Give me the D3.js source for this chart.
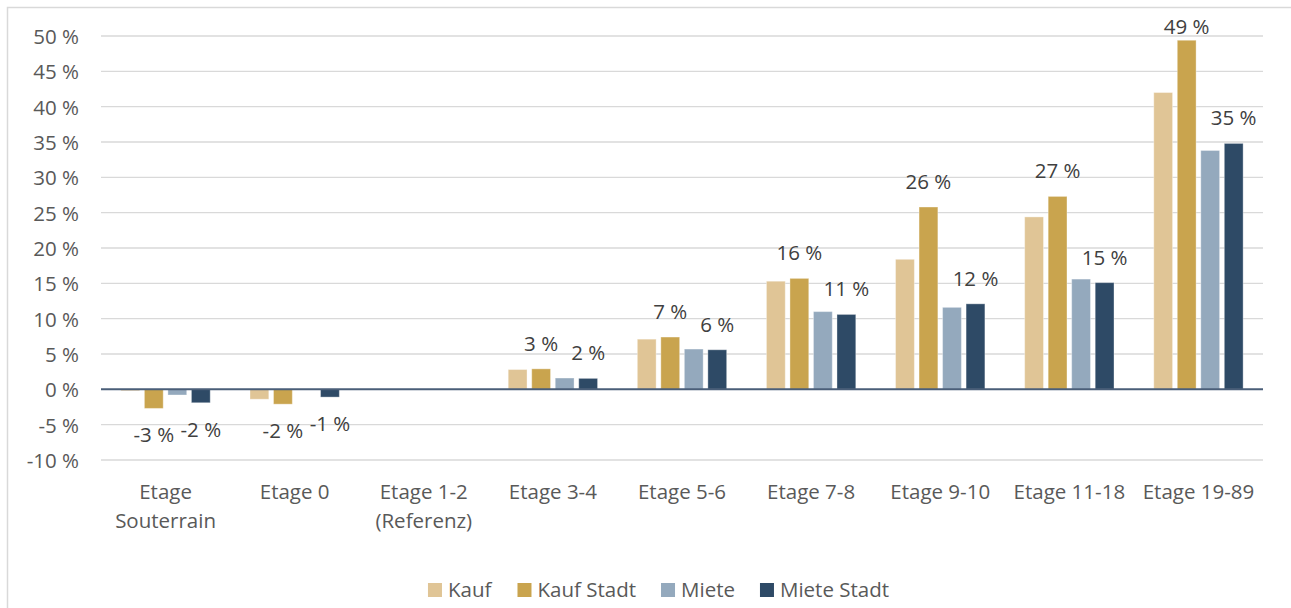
<!DOCTYPE html>
<html>
<head>
<meta charset="utf-8">
<script src="https://cdn.jsdelivr.net/npm/d3@7"></script>
<style>
  html, body { margin: 0; padding: 0; background: #fff; }
  svg { display: block; }
  text { font-family: "Open Sans", "Noto Sans", sans-serif; }
</style>
</head>
<body>
<svg id="chart" width="1291" height="608"></svg>
<script>
// ---- data ----
const categories = ["Etage\nSouterrain", "Etage 0", "Etage 1-2\n(Referenz)", "Etage 3-4", "Etage 5-6", "Etage 7-8", "Etage 9-10", "Etage 11-18", "Etage 19-89"];
const seriesNames = ["Kauf", "Kauf Stadt", "Miete", "Miete Stadt"];
const kauf       = [-0.2, -1.4, 0, 2.8, 7.1, 15.3, 18.4, 24.4, 42.0];
const kaufStadt  = [-2.7, -2.1, 0, 2.9, 7.4, 15.7, 25.8, 27.3, 49.4];
const miete      = [-0.8,  0.0, 0, 1.6, 5.7, 11.0, 11.6, 15.6, 33.8];
const mieteStadt = [-1.9, -1.1, 0, 1.55, 5.6, 10.6, 12.1, 15.1, 34.8];
const yTicks = [-10, -5, 0, 5, 10, 15, 20, 25, 30, 35, 40, 45, 50];
const labelledSeries = ["Kauf Stadt", "Miete Stadt"];

const seriesValues = [kauf, kaufStadt, miete, mieteStadt];
const colors = { "Kauf": "#E0C596", "Kauf Stadt": "#C9A44E", "Miete": "#94A9BD", "Miete Stadt": "#2E4A66" };
const FS = "20.5px";

const svg = d3.select("#chart");

// chart border
svg.append("rect")
  .attr("x", 7.5).attr("y", 7.5).attr("width", 1300).attr("height", 620)
  .attr("fill", "none").attr("stroke", "#D9D9D9").attr("stroke-width", 1.5);

const left = 101, right = 1263;
const y = d3.scaleLinear().domain([-10, 50]).range([460, 36]);
const x0 = d3.scaleBand().domain(categories).range([left, right]).paddingInner(0.308).paddingOuter(0.154);
const x1 = d3.scaleBand().domain(seriesNames).range([0, x0.bandwidth()]).paddingInner(0.2);

// gridlines
svg.append("g").selectAll("line").data(yTicks.filter(t => t !== 0)).join("line")
  .attr("x1", left).attr("x2", right)
  .attr("y1", d => y(d)).attr("y2", d => y(d))
  .attr("stroke", "#D9D9D9").attr("stroke-width", 1.3);

// y axis labels
const yAxis = d3.axisLeft(y).tickValues(yTicks).tickSize(0).tickPadding(0)
  .tickFormat(d => d + " %");
const yg = svg.append("g").attr("transform", `translate(${left - 22},0)`).call(yAxis);
yg.select(".domain").remove();
yg.selectAll("text")
  .attr("fill", "#595959").attr("font-size", FS)
  .attr("dy", "0.36em");

// bars
const rows = categories.map((c, i) => ({ cat: c, vals: seriesNames.map((s, j) => ({ s, v: seriesValues[j][i] })) }));
const groups = svg.append("g").selectAll("g").data(rows).join("g")
  .attr("transform", d => `translate(${x0(d.cat)},0)`);

groups.selectAll("rect").data(d => d.vals.filter(e => e.v !== 0)).join("rect")
  .attr("x", d => x1(d.s))
  .attr("width", x1.bandwidth())
  .attr("y", d => Math.min(y(d.v), y(0)))
  .attr("height", d => Math.abs(y(d.v) - y(0)))
  .attr("fill", d => colors[d.s])
  .attr("stroke", "#ffffff").attr("stroke-opacity", 0.35).attr("stroke-width", 1);

// data labels
groups.selectAll("text.lbl").data(d => d.vals.filter(e => labelledSeries.includes(e.s) && e.v !== 0)).join("text")
  .attr("class", "lbl")
  .attr("x", d => x1(d.s) + x1.bandwidth() / 2)
  .attr("y", d => d.v > 0 ? Math.max(y(d.v) - 18, 34) : y(d.v) + 34)
  .attr("text-anchor", "middle")
  .attr("fill", "#404040").attr("font-size", FS)
  .text(d => Math.round(d.v) + " %");

// zero axis line
svg.append("line")
  .attr("x1", left).attr("x2", right)
  .attr("y1", y(0)).attr("y2", y(0))
  .attr("stroke", "#4A5E78").attr("stroke-width", 2);

// x axis category labels
const xAxis = d3.axisBottom(x0).tickSize(0).tickFormat("");
const xg = svg.append("g").attr("transform", `translate(0,${y(-10)})`).call(xAxis);
xg.select(".domain").remove();
xg.selectAll(".tick").each(function(d) {
  const t = d3.select(this).append("text")
    .attr("text-anchor", "middle").attr("fill", "#595959").attr("font-size", FS);
  d.split("\n").forEach((line, k) => {
    t.append("tspan").attr("x", 0).attr("y", 39 + k * 29).text(line);
  });
});

// legend
const legend = svg.append("g");
const items = legend.selectAll("g").data(seriesNames).join("g");
items.append("rect").attr("width", 14).attr("height", 14).attr("y", -14)
  .attr("fill", d => colors[d]);
items.append("text").attr("x", 20).attr("y", 0)
  .attr("fill", "#595959").attr("font-size", FS).text(d => d);
let cx = 0;
items.each(function() {
  const w = this.getBBox().width;
  d3.select(this).attr("transform", `translate(${cx},0)`);
  cx += w + 25;
});
const totalW = cx - 25;
legend.attr("transform", `translate(${658.5 - totalW / 2},597)`);
</script>
</body>
</html>
